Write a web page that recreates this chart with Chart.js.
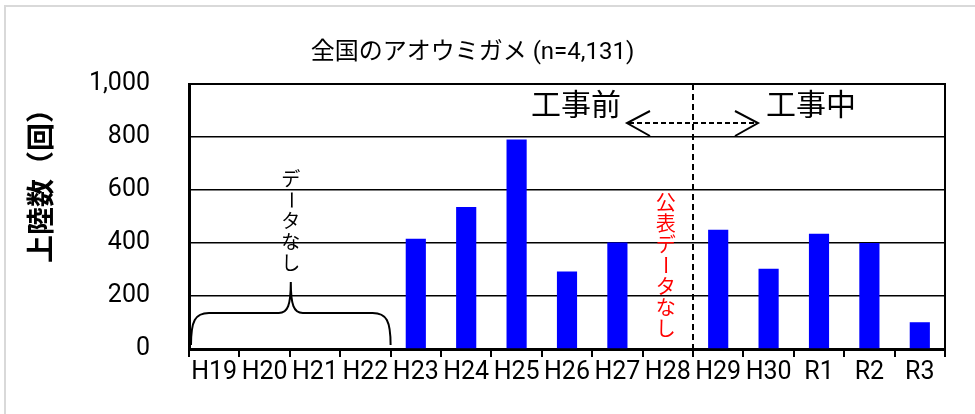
<!DOCTYPE html>
<html>
<head>
<meta charset="utf-8">
<script src="https://cdn.jsdelivr.net/npm/chart.js@4"></script>
<style>
  html, body { margin: 0; padding: 0; background: #fff; }
  #wrap { position: relative; width: 975px; height: 414px; }
  #frame { position: absolute; left: 4px; top: 5px; right: 0; bottom: 0; border-top: 2px solid #d9d9d9; border-left: 2px solid #d9d9d9; }
  canvas { position: absolute; left: 0; top: 0; }
</style>
</head>
<body>
<div id="wrap">
  <div id="frame"></div>
  <canvas id="turtleChart" width="975" height="414"></canvas>
</div>
<script>
// 上陸数 by fiscal year (null = no data)
const categories = ['H19', 'H20', 'H21', 'H22', 'H23', 'H24', 'H25', 'H26', 'H27', 'H28', 'H29', 'H30', 'R1', 'R2', 'R3'];
const landings = [null, null, null, null, 416, 536, 791, 292, 402, null, 450, 303, 435, 400, 101];
const yTicks = [0, 200, 400, 600, 800, 1000];

const latinFont = 'Roboto, "Noto Sans CJK JP", sans-serif';
const jpFont = '"Noto Sans CJK JP", sans-serif';

// draws a column of characters, rotating the long vowel mark like vertical writing
function verticalText(ctx, text, x, y0, step) {
    [...text].forEach((ch, i) => {
        const y = y0 + i * step;
        ctx.save();
        ctx.translate(x, y);
        if (ch === 'ー') ctx.rotate(Math.PI / 2);
        ctx.fillText(ch, 0, 0);
        ctx.restore();
    });
}

const notes = {
    id: 'notes',
    afterDraw(chart) {
        const ctx = chart.ctx;
        const area = chart.chartArea;
        const xs = chart.scales.x;
        const ys = chart.scales.y;
        const half = (xs.getPixelForValue(1) - xs.getPixelForValue(0)) / 2;
        const edge = (i) => xs.getPixelForValue(i) - half;

        ctx.save();
        // plot frame (top and right)
        ctx.strokeStyle = '#000';
        ctx.lineWidth = 2;
        ctx.beginPath();
        ctx.moveTo(area.left, area.top);
        ctx.lineTo(area.right, area.top);
        ctx.lineTo(area.right, area.bottom);
        ctx.stroke();

        // y axis title
        ctx.save();
        ctx.translate(40, 179);
        ctx.rotate(-Math.PI / 2);
        ctx.font = 'bold 28px ' + jpFont;
        ctx.fillStyle = '#000';
        ctx.textAlign = 'center';
        ctx.textBaseline = 'middle';
        ctx.fillText('上陸数（回）', 0, 0);
        ctx.restore();

        // boundary between 工事前 and 工事中
        const dashX = edge(categories.indexOf('H29'));
        ctx.setLineDash([6, 4]);
        ctx.lineWidth = 2;
        ctx.beginPath();
        ctx.moveTo(dashX, area.top);
        ctx.lineTo(dashX, area.bottom);
        ctx.stroke();

        // double arrow
        const ay = area.top + 39;
        ctx.setLineDash([5, 3]);
        ctx.beginPath();
        ctx.moveTo(dashX - 64, ay);
        ctx.lineTo(dashX + 63, ay);
        ctx.stroke();
        ctx.setLineDash([]);
        ctx.lineWidth = 2;
        ctx.beginPath();
        ctx.moveTo(dashX - 43, ay - 12);
        ctx.lineTo(dashX - 66, ay);
        ctx.lineTo(dashX - 43, ay + 13);
        ctx.moveTo(dashX + 42, ay - 12);
        ctx.lineTo(dashX + 65, ay);
        ctx.lineTo(dashX + 42, ay + 13);
        ctx.stroke();

        ctx.fillStyle = '#000';
        ctx.font = '30px ' + jpFont;
        ctx.textAlign = 'center';
        ctx.textBaseline = 'middle';
        ctx.fillText('工事前', dashX - 117, area.top + 20);
        ctx.fillText('工事中', dashX + 118, area.top + 20);

        // 公表データなし (H28)
        ctx.fillStyle = '#ff0000';
        ctx.font = '20px ' + jpFont;
        verticalText(ctx, '公表データなし', xs.getPixelForValue(categories.indexOf('H28')) - 2, 202, 21);

        // brace over H19-H22 with データなし
        const bx0 = edge(0) + 2;
        const bx1 = edge(4);
        const bc = (bx0 + bx1) / 2;
        const yb = ys.getPixelForValue(15);
        const ym = ys.getPixelForValue(136);
        const yt = ys.getPixelForValue(253);
        ctx.strokeStyle = '#000';
        ctx.lineWidth = 2;
        ctx.beginPath();
        ctx.moveTo(bx0, yb);
        ctx.bezierCurveTo(bx0, ym + 8, bx0 + 4, ym, bx0 + 18, ym);
        ctx.lineTo(bc - 12, ym);
        ctx.bezierCurveTo(bc - 3, ym, bc, ym - 8, bc, yt);
        ctx.bezierCurveTo(bc, ym - 8, bc + 3, ym, bc + 12, ym);
        ctx.lineTo(bx1 - 18, ym);
        ctx.bezierCurveTo(bx1 - 4, ym, bx1, ym + 8, bx1, yb);
        ctx.stroke();

        ctx.fillStyle = '#000';
        ctx.font = '19px ' + jpFont;
        verticalText(ctx, 'データなし', bc, 179, 21);
        ctx.restore();
    }
};

function createTurtleChart() {
    const ctx = document.getElementById('turtleChart').getContext('2d');

    new Chart(ctx, {
        type: 'bar',
        data: {
            labels: categories,
            datasets: [{
                label: '上陸数',
                data: landings,
                backgroundColor: '#0000ff',
                borderWidth: 0,
                barPercentage: 0.4,
                categoryPercentage: 1.0
            }]
        },
        options: {
            responsive: false,
            animation: false,
            layout: {
                padding: { left: 0, right: 30, top: 0, bottom: 0 }
            },
            plugins: {
                legend: { display: false },
                tooltip: { enabled: false },
                title: {
                    display: true,
                    text: '全国のアオウミガメ (n=4,131)',
                    color: '#000',
                    font: { family: latinFont, size: 24, weight: 'normal' },
                    padding: { top: 39, bottom: 16.2 }
                }
            },
            scales: {
                x: {
                    offset: true,
                    afterFit: (s) => { s.height = 65; },
                    grid: {
                        offset: true,
                        drawOnChartArea: false,
                        drawTicks: true,
                        tickLength: 8,
                        color: '#000',
                        lineWidth: 2
                    },
                    border: { display: true, color: '#000', width: 3 },
                    ticks: {
                        color: '#000',
                        padding: 1,
                        maxRotation: 0,
                        autoSkip: false,
                        font: { family: latinFont, size: 25 }
                    }
                },
                y: {
                    min: 0,
                    max: 1000,
                    afterFit: (s) => { s.width = 189; },
                    afterBuildTicks: (s) => { s.ticks = yTicks.map(v => ({ value: v })); },
                    grid: {
                        color: '#000',
                        lineWidth: 1.5,
                        drawTicks: false
                    },
                    border: { display: true, color: '#000', width: 3 },
                    ticks: {
                        color: '#000',
                        padding: 39,
                        font: { family: latinFont, size: 25 },
                        callback: (v) => v.toLocaleString('en-US')
                    }
                }
            }
        },
        plugins: [notes]
    });
}

document.addEventListener('DOMContentLoaded', () => {
    createTurtleChart();
});
</script>
</body>
</html>
